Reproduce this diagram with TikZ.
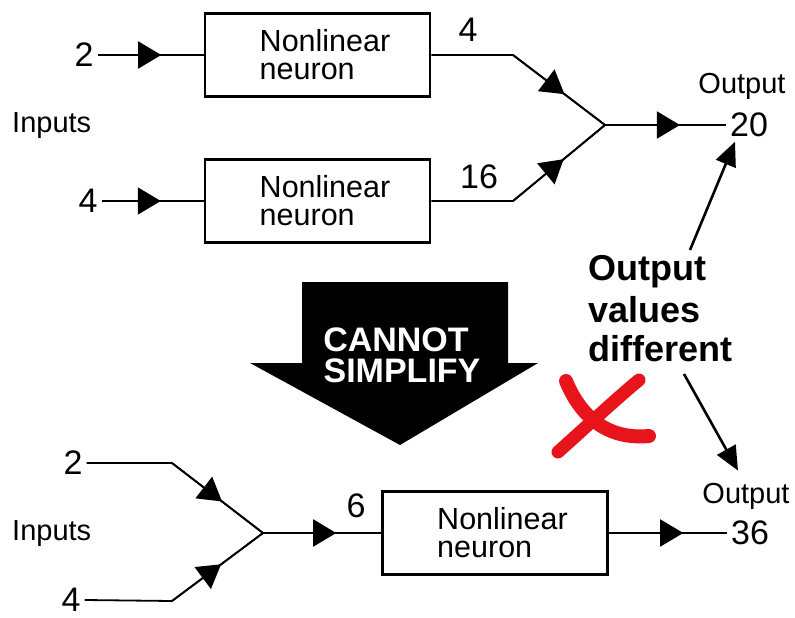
\documentclass[tikz,border=0pt]{standalone}
\usepackage{fontspec}
\setmainfont{Liberation Sans}
\usetikzlibrary{arrows.meta,decorations.markings}
\definecolor{xred}{HTML}{E8141B}
\newcommand{\ind}{\hspace*{15pt}}
\tikzset{
  conn/.style={line width=1.8pt},
  midarrow/.style={conn,postaction={decorate,decoration={markings,
      mark=at position #1 with {\arrow{Triangle[length=23pt,width=27pt]}}}}},
  neuronbox/.style={draw,line width=2.8pt,minimum width=225pt,minimum height=83pt,
      inner sep=0pt,align=left,font=\fontsize{30.5}{28}\selectfont},
  numlab/.style={inner xsep=4pt,inner ysep=0.5pt,font=\fontsize{34}{36}\selectfont},
  smalllab/.style={inner sep=0pt,font=\fontsize{29}{31}\selectfont},
  boldlab/.style={inner sep=0pt,anchor=base west,font=\fontsize{36}{40}\selectfont\bfseries},
  arrowtext/.style={inner sep=0pt,anchor=base,text=white,font=\fontsize{34}{30}\selectfont\bfseries},
  bigarrowline/.style={line width=2.6pt,-{Triangle[length=24pt,width=21pt]}}
}
\begin{document}
\begin{tikzpicture}[x=1pt,y=-1pt]
\useasboundingbox (0,0) rectangle (795,618);
% ---------- top network ----------
\node[neuronbox] (b1) at (317.5,55) {\ind Nonlinear\\\ind neuron};
\node[neuronbox] (b2) at (317.5,201) {\ind Nonlinear\\\ind neuron};
\node[numlab] (in1) at (84,55) {2};
\node[numlab] (in2) at (88,201) {4};
\node[smalllab,anchor=base west] (inp1) at (12,132) {Inputs};
\coordinate (k1) at (513,55);
\coordinate (k2) at (513,201);
\coordinate (j1) at (605,125);
\node[numlab] (out1) at (749,125) {20};
\node[smalllab,anchor=base] (o1) at (742,93) {Output};
\node[numlab] (l4) at (468,30) {4};
\node[numlab] (l16) at (479,177) {16};
\draw[midarrow=0.6] (in1.east) -- (b1.west);
\draw[midarrow=0.58] (in2.east) -- (b2.west);
\draw[conn] (b1.east) -- (k1) -- (j1);
\draw[midarrow=0.56] (k1) -- (j1);
\draw[conn] (b2.east) -- (k2) -- (j1);
\draw[midarrow=0.55] (k2) -- (j1);
\draw[midarrow=0.62] (j1) -- (out1.west);
% ---------- big arrow ----------
\fill (302,282) -- (508,282) -- (508,363) -- (538,363) -- (400,445) -- (250,363) -- (302,363) -- cycle;
\node[arrowtext] (c1) at (396,351) {CANNOT};
\node[arrowtext] (c2) at (402,382) {SIMPLIFY};
% ---------- comment text ----------
\node[boldlab] (d1) at (588,280) {Output};
\node[boldlab] (d2) at (588,322) {values};
\node[boldlab] (d3) at (588,361) {different};
\coordinate (u0) at (690,250);
\coordinate (l0) at (684,374);
% ---------- red cross ----------
\draw[xred,line width=14pt,line cap=round] (566,381) .. controls (580,415) and (606,440) .. (649,436);
\draw[xred,line width=13pt,line cap=round] (639,380) .. controls (616,399) and (586,427) .. (558,452);
% ---------- bottom network ----------
\node[numlab] (in3) at (73,463) {2};
\node[numlab] (in4) at (71,600) {4};
\node[smalllab,anchor=base west] (inp2) at (12,540) {Inputs};
\coordinate (k3) at (172,463);
\coordinate (k4) at (172,601);
\coordinate (j2) at (263,533);
\node[neuronbox] (b3) at (495,533) {\ind Nonlinear\\\ind neuron};
\node[numlab] (l6) at (356,506) {6};
\node[numlab] (out2) at (750,533) {36};
\node[smalllab,anchor=base] (o2) at (746,503) {Output};
\draw[conn] (in3.east) -- (k3) -- (j2);
\draw[midarrow=0.55] (k3) -- (j2);
\draw[conn] (in4.east) -- (k4) -- (j2);
\draw[midarrow=0.54] (k4) -- (j2);
\draw[midarrow=0.62] (j2) -- (b3.west);
\draw[midarrow=0.63] (b3.east) -- (out2.west);
% ---------- comparison arrows ----------
\draw[bigarrowline] (u0) -- ([xshift=-14pt,yshift=-4pt]out1.south);
\draw[bigarrowline] (l0) -- ([xshift=-8pt,yshift=12pt]o2.north);
\end{tikzpicture}
\end{document}
